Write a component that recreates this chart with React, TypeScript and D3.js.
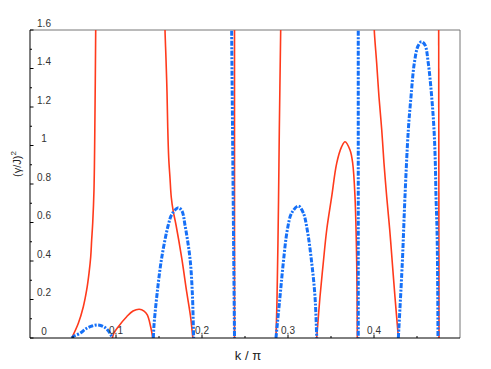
import React, { useEffect, useRef } from 'react';
import * as d3 from 'd3';

// k/pi on x, (gamma/J)^2 on y
const red1 = [[0.0485, 0], [0.0562, 0.0764], [0.062, 0.1626], [0.0659, 0.2494], [0.0686, 0.3361], [0.0706, 0.4223], [0.0717, 0.5091], [0.0729, 0.5958], [0.0744, 0.7688], [0.0756, 1.1844], [0.0764, 1.6], [0.0766, 1.7]];
const blue1 = [[0.0485, 0], [0.0512, 0.01], [0.0581, 0.0244], [0.0659, 0.0504], [0.0721, 0.0623], [0.0794, 0.0675], [0.0872, 0.0545], [0.093, 0.0244], [0.0957, 0]];
const red2 = [[0.0957, 0], [0.0977, 0.026], [0.1027, 0.0587], [0.1124, 0.1106], [0.1198, 0.14], [0.1271, 0.1491], [0.1326, 0.14], [0.1364, 0.1195], [0.1403, 0.0587], [0.1427, 0]];
const blue2 = [[0.1434, 0], [0.1442, 0.0675], [0.148, 0.239], [0.1531, 0.4156], [0.1608, 0.587], [0.1651, 0.6442], [0.1724, 0.6769], [0.1767, 0.6597], [0.1802, 0.587], [0.186, 0.4156], [0.1887, 0.239], [0.1899, 0.0675], [0.1903, 0]];
const red3 = [[0.1568, 1.7], [0.157, 1.6], [0.1581, 1.4545], [0.1593, 1.2795], [0.1601, 1.1065], [0.1613, 0.9351], [0.1628, 0.83], [0.1643, 0.73], [0.1665, 0.66], [0.1698, 0.587], [0.1764, 0.4156], [0.1822, 0.239], [0.1869, 0.1039], [0.1892, 0.0068], [0.1895, 0]];
const red4 = [[0.2378, 1.7], [0.2378, 0]];
const blue3 = [[0.2344, 1.7], [0.2345, 1.6], [0.2378, 0]];
const red5 = [[0.2917, 1.7], [0.2915, 1.6], [0.2899, 1.0805], [0.289, 0.717], [0.2872, 0.197], [0.286, 0]];
const blue4 = [[0.286, 0], [0.2907, 0.2145], [0.2945, 0.3896], [0.2992, 0.561], [0.3043, 0.6494], [0.312, 0.6857], [0.3178, 0.6494], [0.3224, 0.561], [0.3276, 0.3896], [0.3314, 0.2145], [0.3334, 0]];
const red6 = [[0.3334, 0], [0.3372, 0.2145], [0.341, 0.3896], [0.345, 0.561], [0.3508, 0.734], [0.3566, 0.9075], [0.3624, 0.9938], [0.3663, 1.0197], [0.3721, 0.9766], [0.3752, 0.9091], [0.3779, 0.734], [0.3799, 0.3896], [0.3806, 0]];
const blue5 = [[0.3817, 1.7], [0.3817, 0]];
const red7 = [[0.3998, 1.7], [0.4003, 1.6], [0.4031, 1.4286], [0.4058, 1.2519], [0.409, 1.0805], [0.4116, 0.9091], [0.4148, 0.7325], [0.4183, 0.561], [0.4213, 0.3896], [0.4244, 0.213], [0.4276, 0.0416], [0.4283, 0]];
const blue6 = [[0.4283, 0], [0.4329, 0.3896], [0.436, 0.7325], [0.4399, 1.0805], [0.443, 1.2519], [0.4469, 1.4286], [0.4512, 1.517], [0.4552, 1.539], [0.4593, 1.522], [0.4631, 1.4286], [0.4671, 1.2519], [0.4698, 1.0805], [0.4713, 0.9091], [0.4721, 0.7325], [0.4733, 0.561], [0.4741, 0.249], [0.4744, 0]];
const red8 = [[0.4752, 1.7], [0.4756, 0]];

const redCurves = [red1, red2, red3, red4, red5, red6, red7, red8];
const blueCurves = [blue1, blue2, blue3, blue4, blue5, blue6];

const xLabelTicks = [0.1, 0.2, 0.3, 0.4];
const xMinorTicks = [0.05, 0.15, 0.25, 0.35, 0.45];
const yLabelTicks = [0, 0.2, 0.4, 0.6, 0.8, 1, 1.2, 1.4, 1.6];
const yMinorTicks = [0.1, 0.3, 0.5, 0.7, 0.9, 1.1, 1.3, 1.5];

const W = 491;
const H = 369;
const FONT = "'Liberation Sans', Arial, sans-serif";

const App = () => {
  const svgRef = useRef(null);

  useEffect(() => {
    const svg = d3.select(svgRef.current);
    svg.selectAll('*').remove();

    const x = d3.scaleLinear().domain([0, 0.5]).range([30, 460]);
    const y = d3.scaleLinear().domain([0, 1.6]).range([338, 30]);

    svg.append('defs').append('clipPath').attr('id', 'plotClip')
      .append('rect')
      .attr('x', x(0)).attr('y', y(1.6))
      .attr('width', x(0.5) - x(0)).attr('height', y(0) - y(1.6));

    // frame: grey top/right, black axes
    svg.append('path')
      .attr('d', `M${x(0)},${y(1.6)}H${x(0.5)}V${y(0)}`)
      .attr('fill', 'none').attr('stroke', '#777').attr('stroke-width', 1);

    const line = d3.line()
      .x(d => x(d[0]))
      .y(d => y(d[1]))
      .curve(d3.curveCatmullRom.alpha(0.5));

    const plot = svg.append('g').attr('clip-path', 'url(#plotClip)');

    plot.selectAll('path.red')
      .data(redCurves)
      .enter()
      .append('path')
      .attr('class', 'red')
      .attr('d', line)
      .attr('fill', 'none')
      .attr('stroke', '#ff3a1c')
      .attr('stroke-width', 1.6);

    plot.selectAll('path.blue')
      .data(blueCurves)
      .enter()
      .append('path')
      .attr('class', 'blue')
      .attr('d', line)
      .attr('fill', 'none')
      .attr('stroke', '#1670f7')
      .attr('stroke-width', 3)
      .attr('stroke-dasharray', '5,1.5,2,1.5');

    // axes
    const axes = svg.append('g').attr('stroke', '#000').attr('stroke-width', 1);
    axes.append('line').attr('x1', x(0)).attr('x2', x(0)).attr('y1', y(0)).attr('y2', y(1.6));
    axes.append('line').attr('x1', x(0)).attr('x2', x(0.5)).attr('y1', y(0)).attr('y2', y(0));

    axes.selectAll('line.ymaj').data(yLabelTicks).enter().append('line')
      .attr('class', 'ymaj')
      .attr('x1', x(0)).attr('x2', x(0) + 3.5)
      .attr('y1', d => y(d)).attr('y2', d => y(d));
    axes.selectAll('line.ymin').data(yMinorTicks).enter().append('line')
      .attr('class', 'ymin')
      .attr('x1', x(0)).attr('x2', x(0) + 2)
      .attr('y1', d => y(d)).attr('y2', d => y(d));
    axes.selectAll('line.xmaj').data(xLabelTicks).enter().append('line')
      .attr('class', 'xmaj')
      .attr('x1', d => x(d)).attr('x2', d => x(d))
      .attr('y1', y(0)).attr('y2', y(0) - 3.5);
    axes.selectAll('line.xmin').data(xMinorTicks).enter().append('line')
      .attr('class', 'xmin')
      .attr('x1', d => x(d)).attr('x2', d => x(d))
      .attr('y1', y(0)).attr('y2', y(0) - 2);

    // tick labels sit just above their ticks
    svg.selectAll('text.ylab').data(yLabelTicks).enter().append('text')
      .attr('class', 'ylab')
      .attr('x', x(0) + 14)
      .attr('y', d => y(d) - 3.5)
      .attr('text-anchor', 'middle')
      .attr('font-family', FONT)
      .attr('font-size', 10)
      .attr('fill', '#333')
      .text(d => d3.format('~g')(d));

    svg.selectAll('text.xlab').data(xLabelTicks).enter().append('text')
      .attr('class', 'xlab')
      .attr('x', d => x(d))
      .attr('y', y(0) - 4.5)
      .attr('text-anchor', 'middle')
      .attr('font-family', FONT)
      .attr('font-size', 10)
      .attr('fill', '#333')
      .text(d => d3.format('~g')(d));

    // axis titles
    svg.append('text')
      .attr('x', (x(0) + x(0.5)) / 2 + 3)
      .attr('y', 360)
      .attr('text-anchor', 'middle')
      .attr('font-family', FONT)
      .attr('font-size', 13)
      .attr('fill', '#222')
      .text('k / π');

    const yt = svg.append('text')
      .attr('transform', 'translate(21,164) rotate(-90)')
      .attr('text-anchor', 'middle')
      .attr('font-family', FONT)
      .attr('font-size', 11)
      .attr('fill', '#222');
    yt.append('tspan').text('(γ/J)');
    yt.append('tspan').attr('dy', -5).attr('font-size', 8).text('2');
  }, []);

  return (
    <svg
      ref={svgRef}
      width={W}
      height={H}
      style={{ position: 'absolute', left: 0, top: 0, background: '#fff' }}
    />
  );
};

export default App;
